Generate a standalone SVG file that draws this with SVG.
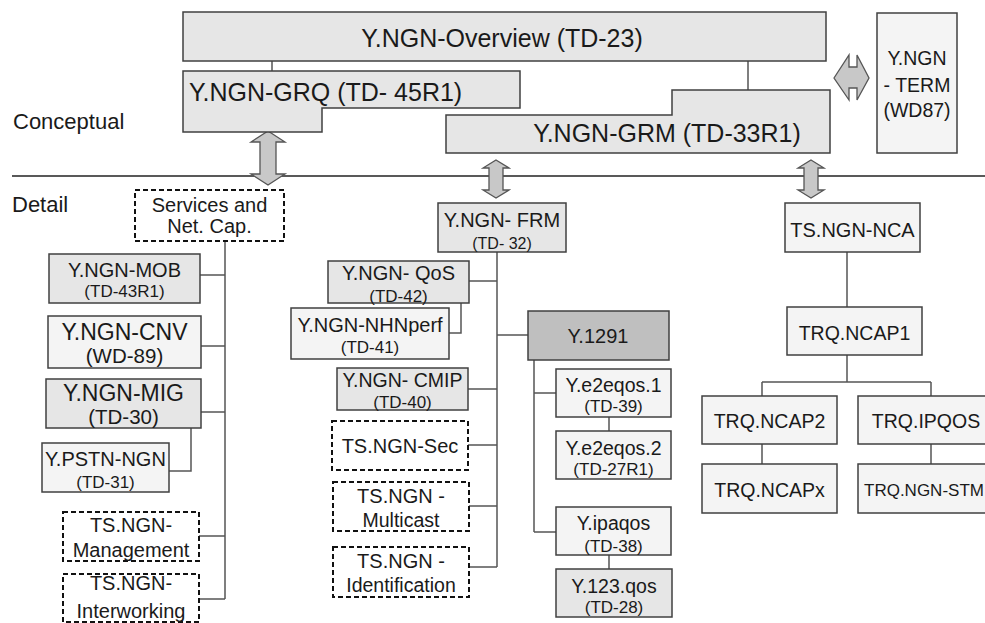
<svg xmlns="http://www.w3.org/2000/svg" width="985" height="623" viewBox="0 0 985 623">
<style>
text{font-family:"Liberation Sans",Arial,sans-serif;fill:#1a1a1a;text-anchor:middle}
.l{text-anchor:start}
.b1{fill:#e6e6e6;stroke:#404040;stroke-width:1.5}
.b2{fill:#f4f4f4;stroke:#404040;stroke-width:1.5}
.b3{fill:#bfbfbf;stroke:#404040;stroke-width:1.5}
.bd{fill:#fff;stroke:#111;stroke-width:2;stroke-dasharray:5 3}
.ar{fill:#c8c8c8;stroke:#555;stroke-width:1.3}
.c{fill:none;stroke:#555;stroke-width:1.5}
.t25{font-size:25px}.t22{font-size:22px}.t23{font-size:23px}.t20{font-size:20px}.t19{font-size:19.5px}.t17{font-size:17px}.t16{font-size:16px}.t21{font-size:20.5px}
</style>

<g id="connectors">
<path class="c" d="M272 61V71M748 61V90"/>
<path class="c" d="M225 241V599M200 275H225M201 346H225M201 412H225M191 428V471H169M199 536H225M199 599H225"/>
<path class="c" d="M497 252V567M469 281H497M461 303V333H449M497 335H528M468 389H497M468 445H497M469 506H497M469 567H497"/>
<path class="c" d="M534 360V532M534 393H556M609 417V431M534 532H556M609 555V569"/>
<path class="c" d="M847 252V307M847 355V382M762 382H931M762 382V396M931 382V396M762 444V464M931 444V464"/>
<path d="M12 176H985" fill="none" stroke="#222" stroke-width="1.5"/>
<polygon class="ar" points="268,131 285,142 276,142 276,174 285,174 268,185 251,174 260,174 260,142 251,142"/>
<polygon class="ar" points="496,160 509,168 503,168 503,190 509,190 496,198 483,190 489,190 489,168 483,168"/>
<polygon class="ar" points="811,160 824,168 818,168 818,190 824,190 811,198 798,190 804,190 804,168 798,168"/>
<polygon class="ar" points="834,78 849,55 849,67 857,67 857,55 869,78 857,100 857,88 849,88 849,100"/>
</g>

<text class="t22 l" x="13" y="129">Conceptual</text>
<text class="t22 l" x="12" y="212">Detail</text>

<g id="overview"><rect class="b1" x="183" y="12" width="643" height="49"/><text class="t25" x="502" y="47">Y.NGN-Overview (TD-23)</text></g>
<g id="grq"><polygon class="b1" points="183,71 520,71 520,108 322,108 322,132 183,132"/><text class="t25 l" x="189" y="101">Y.NGN-GRQ (TD- 45R1)</text></g>
<g id="grm"><polygon class="b1" points="446,115 672,115 672,90 830,90 830,153 446,153"/><text class="t25" x="667" y="142">Y.NGN-GRM (TD-33R1)</text></g>
<g id="term"><rect class="b2" x="877" y="13" width="80" height="140"/><text class="t19" x="917" y="65">Y.NGN</text><text class="t19" x="917" y="92">- TERM</text><text class="t19" x="917" y="117">(WD87)</text></g>

<g id="services"><rect class="bd" x="135" y="190" width="149" height="51"/><text class="t20" x="209.5" y="212">Services and</text><text class="t20" x="209.5" y="233">Net. Cap.</text></g>
<g id="mob"><rect class="b1" x="49" y="254" width="151" height="49"/><text class="t20" x="124.5" y="277">Y.NGN-MOB</text><text class="t17" x="124.5" y="297">(TD-43R1)</text></g>
<g id="cnv"><rect class="b2" x="48" y="316" width="153" height="52"/><text class="t23" x="124.5" y="340">Y.NGN-CNV</text><text class="t21" x="124.5" y="363">(WD-89)</text></g>
<g id="mig"><rect class="b1" x="46" y="379" width="155" height="49"/><text class="t23" x="123.5" y="401">Y.NGN-MIG</text><text class="t21" x="123.5" y="424">(TD-30)</text></g>
<g id="pstn"><rect class="b2" x="42" y="443" width="127" height="49"/><text class="t20" x="105.5" y="466">Y.PSTN-NGN</text><text class="t17" x="105.5" y="488">(TD-31)</text></g>
<g id="management"><rect class="bd" x="63" y="512" width="136" height="49"/><text class="t20" x="131" y="532">TS.NGN-</text><text class="t20" x="131" y="557">Management</text></g>
<g id="interworking"><rect class="bd" x="63" y="574" width="136" height="48"/><text class="t20" x="131" y="590">TS.NGN-</text><text class="t20" x="131" y="618">Interworking</text></g>

<g id="frm"><rect class="b1" x="438" y="203" width="128" height="49"/><text class="t20" x="502" y="227">Y.NGN- FRM</text><text class="t16" x="502" y="249">(TD- 32)</text></g>
<g id="qos"><rect class="b1" x="328" y="261" width="141" height="42"/><text class="t20" x="398.5" y="280">Y.NGN- QoS</text><text class="t17" x="398.5" y="302">(TD-42)</text></g>
<g id="nhnperf"><rect class="b2" x="291" y="308" width="158" height="51"/><text class="t20" x="370" y="332">Y.NGN-NHNperf</text><text class="t17" x="370" y="353">(TD-41)</text></g>
<g id="cmip"><rect class="b1" x="337" y="368" width="131" height="42"/><text class="t19" x="402.5" y="387">Y.NGN- CMIP</text><text class="t17" x="402.5" y="408">(TD-40)</text></g>
<g id="sec"><rect class="bd" x="332" y="421" width="136" height="49"/><text class="t20" x="400" y="453">TS.NGN-Sec</text></g>
<g id="multicast"><rect class="bd" x="333" y="482" width="136" height="49"/><text class="t20" x="401" y="503">TS.NGN -</text><text class="t19" x="401" y="527">Multicast</text></g>
<g id="identification"><rect class="bd" x="333" y="547" width="136" height="50"/><text class="t20" x="401" y="568">TS.NGN -</text><text class="t19" x="401" y="592">Identification</text></g>

<g id="y1291"><rect class="b3" x="528" y="311" width="141" height="49"/><text class="t20" x="598" y="343">Y.1291</text></g>
<g id="e2eqos1"><rect class="b2" x="556" y="369" width="115" height="48"/><text class="t19" x="613.5" y="392">Y.e2eqos.1</text><text class="t17" x="613.5" y="412">(TD-39)</text></g>
<g id="e2eqos2"><rect class="b2" x="556" y="431" width="115" height="48"/><text class="t19" x="613.5" y="455">Y.e2eqos.2</text><text class="t17" x="613.5" y="475">(TD-27R1)</text></g>
<g id="ipaqos"><rect class="b2" x="556" y="507" width="115" height="48"/><text class="t19" x="613.5" y="530">Y.ipaqos</text><text class="t17" x="613.5" y="552">(TD-38)</text></g>
<g id="qos123"><rect class="b1" x="556" y="569" width="116" height="48"/><text class="t19" x="614" y="593">Y.123.qos</text><text class="t17" x="614" y="613">(TD-28)</text></g>

<g id="nca"><rect class="b2" x="785" y="203" width="135" height="49"/><text class="t20" x="852.5" y="237">TS.NGN-NCA</text></g>
<g id="ncap1"><rect class="b2" x="787" y="307" width="135" height="48"/><text class="t19" x="854.5" y="340">TRQ.NCAP1</text></g>
<g id="ncap2"><rect class="b2" x="702" y="396" width="135" height="48"/><text class="t19" x="769.5" y="428">TRQ.NCAP2</text></g>
<g id="ipqos"><rect class="b2" x="858" y="396" width="135" height="48"/><text class="t19" x="926" y="428">TRQ.IPQOS</text></g>
<g id="ncapx"><rect class="b2" x="702" y="464" width="135" height="49"/><text class="t19" x="769.5" y="497">TRQ.NCAPx</text></g>
<g id="stm"><rect class="b2" x="858" y="464" width="135" height="49"/><text class="l t17" x="864" y="496">TRQ.NGN-STM</text></g>
</svg>
